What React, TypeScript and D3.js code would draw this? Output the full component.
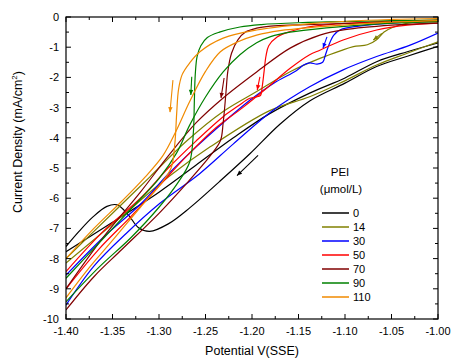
import React from 'react';
import * as d3 from 'd3';

type Pt = [number, number];

// potential (V vs SSE) , current density (mA/cm2)
const pei0Fwd: Pt[] = [[-1.00,-0.97],[-1.033,-1.3],[-1.066,-1.64],[-1.10,-2.19],[-1.138,-2.78],[-1.17,-3.55],[-1.202,-4.52],[-1.235,-5.45],[-1.267,-6.32],[-1.29,-6.85],[-1.31,-7.1],[-1.322,-6.98],[-1.333,-6.55],[-1.345,-6.22],[-1.356,-6.27],[-1.371,-6.62],[-1.386,-7.1],[-1.40,-7.6]];
const pei0Rev: Pt[] = [[-1.00,-0.86],[-1.033,-1.15],[-1.066,-1.48],[-1.10,-2.02],[-1.138,-2.52],[-1.181,-3.2],[-1.22,-4.0],[-1.26,-4.9],[-1.30,-5.8],[-1.35,-6.8],[-1.40,-7.77]];

const pei14Fwd: Pt[] = [[-1.00,-0.1],[-1.02,-0.15],[-1.035,-0.22],[-1.049,-0.35],[-1.058,-0.5],[-1.066,-0.75],[-1.076,-0.92],[-1.091,-0.98],[-1.105,-1.12],[-1.127,-1.37],[-1.159,-1.81],[-1.195,-2.47],[-1.231,-3.13],[-1.27,-4.1],[-1.31,-5.3],[-1.35,-6.5],[-1.40,-8.0]];
const pei14Rev: Pt[] = [[-1.00,-0.82],[-1.033,-1.2],[-1.066,-1.59],[-1.102,-2.14],[-1.138,-2.64],[-1.181,-3.1],[-1.245,-4.3],[-1.29,-5.3],[-1.34,-6.6],[-1.40,-8.15]];

const pei30Fwd: Pt[] = [[-1.00,-0.12],[-1.05,-0.2],[-1.085,-0.3],[-1.105,-0.42],[-1.112,-0.6],[-1.117,-0.9],[-1.121,-1.25],[-1.124,-1.5],[-1.13,-1.56],[-1.138,-1.52],[-1.145,-1.6],[-1.152,-1.77],[-1.177,-2.2],[-1.202,-2.75],[-1.231,-3.5],[-1.26,-4.3],[-1.29,-5.2],[-1.32,-6.2],[-1.36,-7.3],[-1.40,-8.55]];
const pei30Rev: Pt[] = [[-1.00,-0.53],[-1.03,-0.93],[-1.066,-1.31],[-1.102,-1.75],[-1.138,-2.31],[-1.177,-3.08],[-1.22,-4.2],[-1.256,-5.18],[-1.299,-6.17],[-1.335,-7.16],[-1.37,-8.25],[-1.40,-9.54]];

const pei50Fwd: Pt[] = [[-1.00,-0.1],[-1.06,-0.15],[-1.11,-0.23],[-1.14,-0.33],[-1.159,-0.48],[-1.173,-0.66],[-1.182,-0.95],[-1.185,-1.3],[-1.187,-1.8],[-1.189,-2.3],[-1.191,-2.6],[-1.196,-2.65],[-1.203,-2.7],[-1.215,-2.95],[-1.231,-3.3],[-1.26,-4.1],[-1.29,-5.0],[-1.32,-6.0],[-1.36,-7.1],[-1.40,-8.43]];
const pei50Rev: Pt[] = [[-1.00,-0.2],[-1.033,-0.27],[-1.066,-0.43],[-1.102,-0.76],[-1.127,-1.1],[-1.138,-1.25],[-1.159,-1.7],[-1.184,-2.35],[-1.21,-3.0],[-1.24,-3.7],[-1.27,-4.6],[-1.30,-5.6],[-1.33,-6.6],[-1.365,-7.7],[-1.40,-9.0]];

const pei70Fwd: Pt[] = [[-1.00,-0.15],[-1.08,-0.2],[-1.15,-0.26],[-1.18,-0.3],[-1.195,-0.37],[-1.207,-0.5],[-1.215,-0.75],[-1.222,-1.2],[-1.226,-1.8],[-1.228,-2.5],[-1.231,-3.5],[-1.234,-4.1],[-1.245,-4.6],[-1.27,-5.5],[-1.30,-6.5],[-1.34,-7.7],[-1.37,-8.6],[-1.40,-9.7]];
const pei70Rev: Pt[] = [[-1.00,-0.2],[-1.05,-0.27],[-1.10,-0.42],[-1.127,-0.6],[-1.159,-1.03],[-1.195,-1.82],[-1.231,-2.68],[-1.26,-3.5],[-1.29,-4.6],[-1.32,-5.8],[-1.36,-7.3],[-1.40,-9.0]];

const pei90Fwd: Pt[] = [[-1.00,-0.1],[-1.08,-0.14],[-1.15,-0.19],[-1.19,-0.25],[-1.213,-0.33],[-1.235,-0.5],[-1.248,-0.68],[-1.255,-0.95],[-1.259,-1.3],[-1.261,-1.9],[-1.262,-2.8],[-1.263,-3.8],[-1.267,-4.8],[-1.28,-5.5],[-1.30,-6.3],[-1.33,-7.3],[-1.365,-8.3],[-1.40,-9.43]];
const pei90Rev: Pt[] = [[-1.00,-0.15],[-1.06,-0.22],[-1.12,-0.36],[-1.159,-0.5],[-1.18,-0.65],[-1.195,-0.85],[-1.213,-1.25],[-1.231,-1.82],[-1.25,-2.65],[-1.267,-3.58],[-1.281,-4.5],[-1.30,-5.35],[-1.33,-6.35],[-1.365,-7.5],[-1.40,-8.65]];

const pei110Fwd: Pt[] = [[-1.00,-0.05],[-1.05,-0.08],[-1.13,-0.2],[-1.195,-0.43],[-1.231,-0.7],[-1.256,-1.15],[-1.267,-1.52],[-1.275,-1.9],[-1.279,-2.4],[-1.281,-3.2],[-1.283,-4.2],[-1.287,-5.0],[-1.30,-5.6],[-1.32,-6.3],[-1.35,-7.4],[-1.375,-8.3],[-1.40,-9.3]];
const pei110Rev: Pt[] = [[-1.00,-0.12],[-1.07,-0.2],[-1.13,-0.33],[-1.17,-0.45],[-1.195,-0.6],[-1.215,-0.82],[-1.234,-1.15],[-1.25,-1.8],[-1.267,-2.8],[-1.282,-3.8],[-1.296,-4.6],[-1.315,-5.3],[-1.34,-6.1],[-1.37,-7.0],[-1.40,-8.0]];

const peiLabels = ['0', '14', '30', '50', '70', '90', '110'];
const peiColors = ['#000000', '#808000', '#0000ff', '#ff0000', '#800000', '#008000', '#f08a00'];
const branches: Pt[][][] = [
  [pei0Fwd, pei0Rev], [pei14Fwd, pei14Rev], [pei30Fwd, pei30Rev], [pei50Fwd, pei50Rev],
  [pei70Fwd, pei70Rev], [pei90Fwd, pei90Rev], [pei110Fwd, pei110Rev],
];

// scan direction arrows: [from, to] for each series
const scanArrows: [Pt, Pt][] = [
  [[-1.1935,-4.58],[-1.2161,-5.25]],
  [[-1.0605,-0.54],[-1.0696,-0.76]],
  [[-1.1194,-0.66],[-1.1237,-1.03]],
  [[-1.1915,-1.98],[-1.1944,-2.42]],
  [[-1.2300,-2.02],[-1.2333,-2.68]],
  [[-1.2648,-1.98],[-1.2658,-2.58]],
  [[-1.2850,-2.09],[-1.2882,-3.15]],
];

const xMajor = [-1.40, -1.35, -1.30, -1.25, -1.20, -1.15, -1.10, -1.05, -1.00];
const xMinor = [-1.375, -1.325, -1.275, -1.225, -1.175, -1.125, -1.075, -1.025];
const yMajor = [0, -1, -2, -3, -4, -5, -6, -7, -8, -9, -10];
const yMinor = [-0.5, -1.5, -2.5, -3.5, -4.5, -5.5, -6.5, -7.5, -8.5, -9.5];

const W = 451;
const H = 360;
const margin = { top: 17, right: 13, bottom: 41, left: 66 };
const font = "Arial, 'Liberation Sans', sans-serif";

export default function App() {
  const iw = W - margin.left - margin.right;
  const ih = H - margin.top - margin.bottom;
  const x = d3.scaleLinear().domain([-1.40, -1.00]).range([0, iw]);
  const y = d3.scaleLinear().domain([-10, 0]).range([ih, 0]);
  const line = d3.line<Pt>()
    .x(d => x(d[0]))
    .y(d => y(d[1]))
    .curve(d3.curveCatmullRom.alpha(0.5));

  const arrowHead = (a: Pt, b: Pt) => {
    const x1 = x(a[0]), y1 = y(a[1]), x2 = x(b[0]), y2 = y(b[1]);
    const ang = Math.atan2(y2 - y1, x2 - x1);
    const len = 5, wid = 2.2;
    const bx = x2 - len * Math.cos(ang), by = y2 - len * Math.sin(ang);
    const px = -Math.sin(ang) * wid, py = Math.cos(ang) * wid;
    return `M${x2},${y2}L${bx + px},${by + py}L${bx - px},${by - py}Z`;
  };

  const legendX = 322;
  const legendY0 = 213;
  const legendStep = 14;

  return (
    <div style={{ position: 'absolute', left: 0, top: 0 }}>
      <svg width={W} height={H} style={{ display: 'block', background: '#fff' }} fontFamily={font}>
        <defs>
          <clipPath id="plot-clip">
            <rect x={0} y={0} width={iw} height={ih} />
          </clipPath>
        </defs>
        <g transform={`translate(${margin.left},${margin.top})`}>
          <g clipPath="url(#plot-clip)">
            {branches.map((pair, i) =>
              pair.map((pts, j) => (
                <path key={`${i}-${j}`} d={line(pts) || ''} fill="none"
                  stroke={peiColors[i]} strokeWidth={1.2} />
              ))
            )}
          </g>

          {scanArrows.map(([a, b], i) => (
            <g key={`arr-${i}`}>
              <line x1={x(a[0])} y1={y(a[1])} x2={x(b[0])} y2={y(b[1])}
                stroke={peiColors[i]} strokeWidth={1.1} />
              <path d={arrowHead(a, b)} fill={peiColors[i]} />
            </g>
          ))}

          {/* frame */}
          <rect x={0} y={0} width={iw} height={ih} fill="none" stroke="#000" strokeWidth={1.2} />

          {/* ticks */}
          {xMajor.map(v => (
            <g key={`xm${v}`}>
              <line x1={x(v)} x2={x(v)} y1={ih} y2={ih - 5} stroke="#000" />
              <line x1={x(v)} x2={x(v)} y1={0} y2={5} stroke="#000" />
              <text x={x(v)} y={ih + 16} textAnchor="middle" fontSize={11}>{v.toFixed(2)}</text>
            </g>
          ))}
          {xMinor.map(v => (
            <g key={`xn${v}`}>
              <line x1={x(v)} x2={x(v)} y1={ih} y2={ih - 3} stroke="#000" />
              <line x1={x(v)} x2={x(v)} y1={0} y2={3} stroke="#000" />
            </g>
          ))}
          {yMajor.map(v => (
            <g key={`ym${v}`}>
              <line x1={0} x2={5} y1={y(v)} y2={y(v)} stroke="#000" />
              <line x1={iw} x2={iw - 5} y1={y(v)} y2={y(v)} stroke="#000" />
              <text x={-7} y={y(v) + 4} textAnchor="end" fontSize={11}>{v}</text>
            </g>
          ))}
          {yMinor.map(v => (
            <g key={`yn${v}`}>
              <line x1={0} x2={3} y1={y(v)} y2={y(v)} stroke="#000" />
              <line x1={iw} x2={iw - 3} y1={y(v)} y2={y(v)} stroke="#000" />
            </g>
          ))}
        </g>

        {/* axis titles */}
        <text x={252} y={355} textAnchor="middle" fontSize={12.5}>Potential V(SSE)</text>
        <text transform={`translate(22,142) rotate(-90)`} textAnchor="middle" fontSize={12.5}>
          Current Density (mA/cm<tspan dy={-5} fontSize={8}>2</tspan><tspan dy={5}>)</tspan>
        </text>

        {/* legend */}
        <text x={340} y={176} textAnchor="middle" fontSize={11.5}>PEI</text>
        <text x={341} y={193} textAnchor="middle" fontSize={11.5}>(μmol/L)</text>
        {peiLabels.map((lab, i) => (
          <g key={`lg${lab}`}>
            <line x1={legendX} x2={legendX + 27} y1={legendY0 + i * legendStep} y2={legendY0 + i * legendStep}
              stroke={peiColors[i]} strokeWidth={1.5} />
            <text x={legendX + 31} y={legendY0 + i * legendStep + 4} fontSize={11}>{lab}</text>
          </g>
        ))}
      </svg>
    </div>
  );
}
